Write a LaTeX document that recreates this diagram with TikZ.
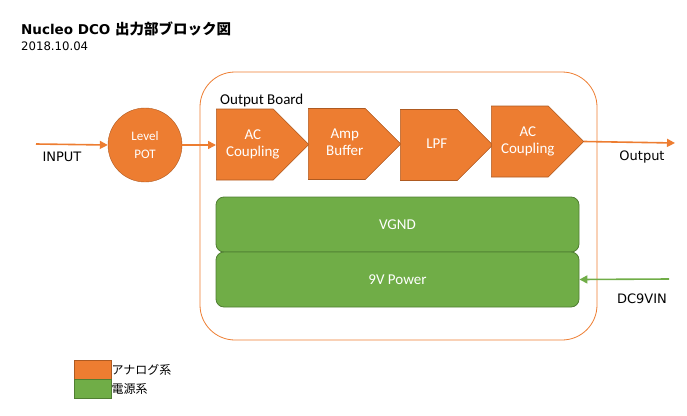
\documentclass[tikz,border=0pt]{standalone}
\usepackage{fontspec}
\setmainfont{Carlito}
\newfontfamily\jfont{Noto Sans CJK JP}
\newfontfamily\uifont{DejaVu Sans}
\usetikzlibrary{shapes.symbols,arrows.meta}
\definecolor{canalog}{RGB}{237,125,49}
\definecolor{canalogdk}{RGB}{174,90,33}
\definecolor{cpower}{RGB}{112,173,71}
\definecolor{cpowerdk}{RGB}{80,126,50}
\newcommand\stagetext[1]{\hbox to 71pt{\hfil\hskip16pt\begin{tabular}{@{}c@{}}#1\end{tabular}\hfil}}

\begin{document}
\begin{tikzpicture}[x=1pt,y=-1pt,font=\fontsize{15}{17}\selectfont,
   stage/.style={signal, signal to=east, signal pointer angle=90, draw=canalogdk,
     fill=canalog, text=white, inner xsep=-7pt, inner ysep=0pt, minimum height=71pt,
     line width=0.6pt, anchor=west},
   rail/.style={rectangle, rounded corners=8pt, draw=cpowerdk, fill=cpower, text=white,
     minimum width=363pt, minimum height=55pt, line width=0.8pt},
   sig/.style={draw=canalog, line width=1.6pt, -{Triangle[length=8pt,width=8pt]}},
   pwr/.style={draw=cpower, line width=1.6pt, -{Triangle[length=8pt,width=8pt]}},
   lbl/.style={font=\uifont\fontsize{13}{15}\selectfont, inner sep=0pt},
   key/.style={draw=canalogdk, minimum width=37pt, minimum height=19pt, inner sep=0pt, line width=0.8pt}]
  \useasboundingbox (0,0) rectangle (687,415);
  \node[anchor=west,inner sep=0pt] (title) at (21,29)
    {\uifont\bfseries\fontsize{13.5}{16}\selectfont Nucleo DCO \jfont\bfseries\fontsize{14.5}{16}\selectfont 出力部ブロック図};
  \node[anchor=west,inner sep=0pt,font=\uifont\fontsize{11.7}{13}\selectfont] (date) at (21,46) {2018.10.04};
  \node[draw=canalog, line width=0.8pt, rounded corners=35pt, minimum width=397pt,
    minimum height=268pt] (board) at (398.5,206) {};
  \node[anchor=west,inner sep=0pt] (boardname) at (220,100) {Output Board};
  \node[circle, draw=canalogdk, fill=canalog, text=white, minimum size=74pt, inner sep=0pt,
    align=center, font=\fontsize{13}{18}\selectfont] (pot) at (145,145) {Level\\POT};
  \node[stage] (ac1) at (216,144.5) {\stagetext{AC\\Coupling}};
  \node[stage] (amp) at (308,144) {\stagetext{Amp\\Buffer}};
  \node[stage] (lpf) at (400,145) {\stagetext{LPF}};
  \node[stage] (ac2) at (491,141.5) {\stagetext{AC\\Coupling}};
  \node[rail] (vgnd) at (397.5,224.5) {VGND};
  \node[rail] (v9) at (397.5,279.5) {9V Power};
  \coordinate (inp) at (36,144);
  \coordinate (outp) at (675,143);
  \coordinate (dcin) at (669,279);
  \draw[sig] (inp) -- (pot.west);
  \node[lbl] (inlbl) at (62,157) {INPUT};
  \draw[sig] (pot.east) -- (ac1.west |- pot.east);
  \draw[sig] (ac2.east) -- (outp);
  \node[lbl] (outlbl) at (642,157) {Output};
  \draw[pwr] (dcin) -- (v9.east);
  \node[lbl] (dclbl) at (642,299) {DC9VIN};
  \node[key, fill=canalog] (keya) at (92.5,369.5) {};
  \node[key, fill=cpower, draw=cpowerdk] (keyp) at (92.5,388.5) {};
  \node[anchor=west,inner sep=0pt,font=\jfont\fontsize{12}{14}\selectfont] (keyatxt) at (keya.east) {アナログ系};
  \node[anchor=west,inner sep=0pt,font=\jfont\fontsize{12}{14}\selectfont] (keyptxt) at (keyp.east) {電源系};
\end{tikzpicture}
\end{document}
